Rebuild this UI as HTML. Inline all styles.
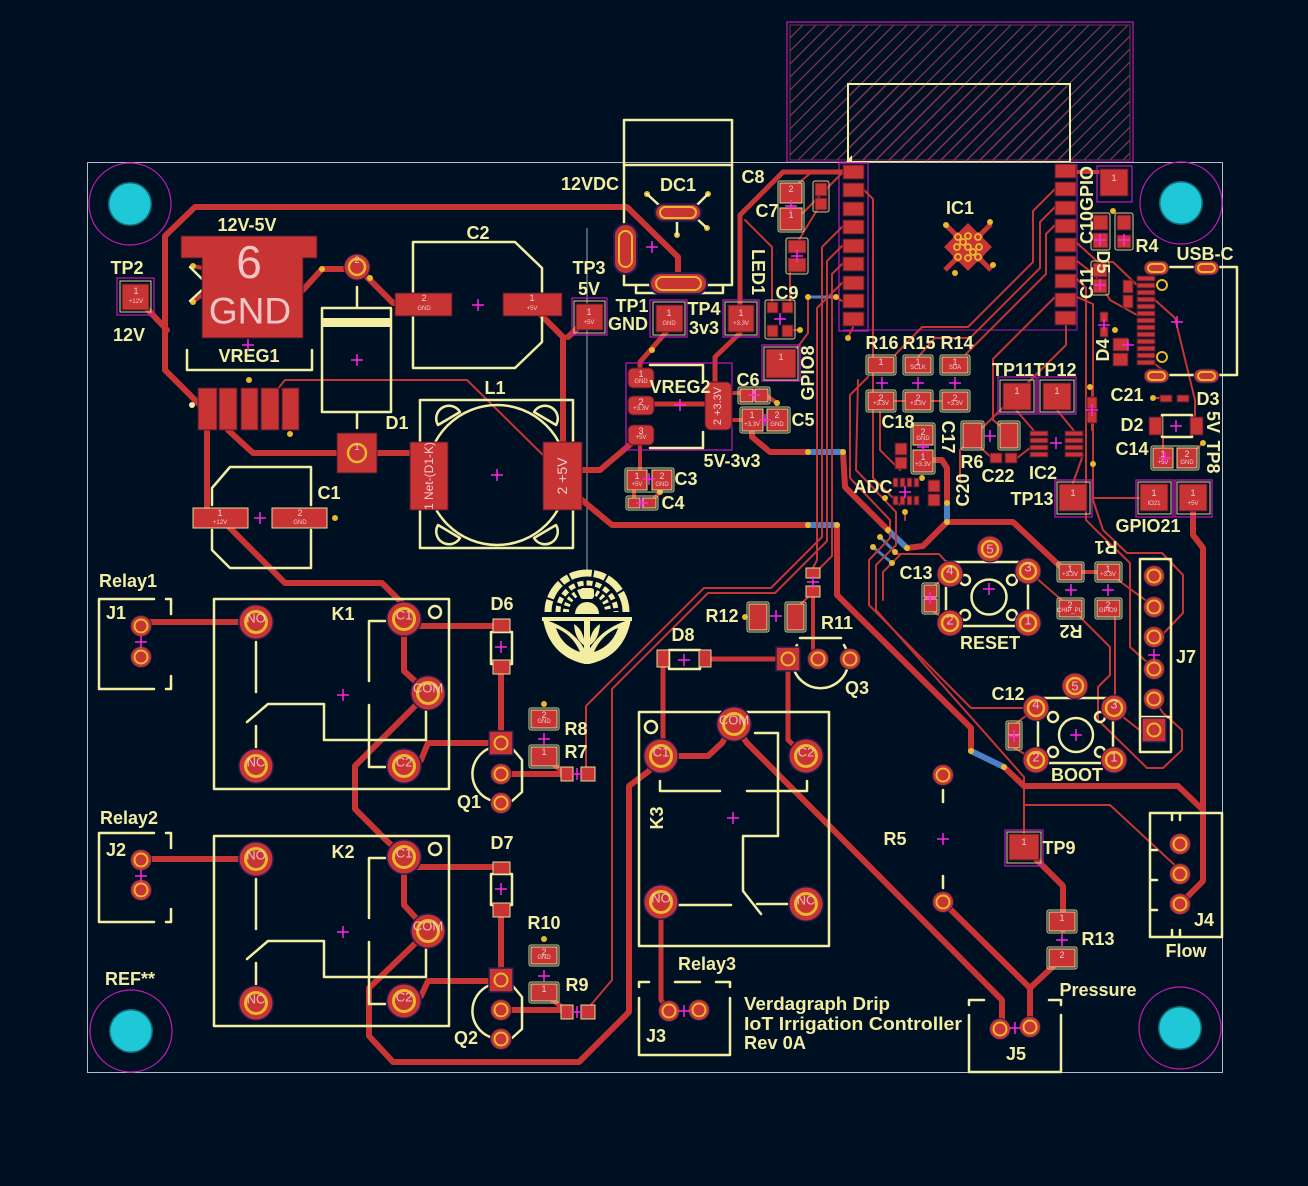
<!DOCTYPE html>
<html><head><meta charset="utf-8"><style>
html,body{margin:0;padding:0;background:#001023;}
svg{display:block;}
.t{fill:none;stroke:#c83434;stroke-linecap:round;stroke-linejoin:round;}
.w6{stroke-width:6}.w5{stroke-width:5}.w4{stroke-width:4}.w2{stroke-width:2}
.bl{fill:none;stroke:#4d7fc4;stroke-width:6;stroke-linecap:round}
.s{fill:none;stroke:#f2eda1;stroke-width:2.5;stroke-linecap:round;stroke-linejoin:round}
.p{fill:#c83434;stroke:#4a1830;stroke-width:1}
.py{fill:#c83434;stroke:#e6dc98;stroke-width:1}
.mo{fill:none;stroke:#c21bb0;stroke-width:1.2}
.yf{fill:none;stroke:#d8cf8a;stroke-width:1}
.L{font-family:"Liberation Sans",sans-serif;font-weight:bold;font-size:18px;fill:#f2eda1;text-anchor:middle;dominant-baseline:central}
.n{font-family:"Liberation Sans",sans-serif;font-size:9px;fill:#f5cccc;text-anchor:middle;dominant-baseline:central}
.nn{font-family:"Liberation Sans",sans-serif;font-size:6px;fill:#f5cccc;text-anchor:middle;dominant-baseline:central}
.k{font-family:"Liberation Sans",sans-serif;font-size:13px;fill:#f5d0d0;text-anchor:middle;dominant-baseline:central;opacity:.85}
.v{fill:#e8b82e}
</style></head><body>
<svg width="1308" height="1186" viewBox="0 0 1308 1186" xmlns="http://www.w3.org/2000/svg">
<defs>
<clipPath id="kc"><rect x="790" y="25" width="340" height="135"/></clipPath>
<g id="tl"><circle r="18" fill="#221c4e"/><circle r="16.5" fill="#c83434"/><circle r="10.5" fill="none" stroke="#e8b82e" stroke-width="3"/></g>
<g id="tm"><circle r="13.5" fill="#221c4e"/><circle r="12.5" fill="#c83434"/><circle r="8" fill="none" stroke="#e8b82e" stroke-width="2.5"/></g>
<g id="ts"><circle r="11" fill="#221c4e"/><circle r="10" fill="#c83434"/><circle r="6.5" fill="none" stroke="#e8b82e" stroke-width="2"/></g>
<g id="tq"><rect x="-12" y="-12" width="24" height="24" fill="#c83434" stroke="#221c4e" stroke-width="1.5"/><circle r="6.5" fill="none" stroke="#e8b82e" stroke-width="2"/></g>
<path id="pl" d="M-6,0H6M0,-6V6" stroke="#ff26e2" stroke-width="1.5" fill="none"/>
</defs>

<!-- keepout -->
<g clip-path="url(#kc)">
<path fill="none" stroke="#8a3452" stroke-width="1.2" d="M655,160 l135,-135 M668,160 l135,-135 M681,160 l135,-135 M694,160 l135,-135 M707,160 l135,-135 M720,160 l135,-135 M733,160 l135,-135 M746,160 l135,-135 M759,160 l135,-135 M772,160 l135,-135 M785,160 l135,-135 M798,160 l135,-135 M811,160 l135,-135 M824,160 l135,-135 M837,160 l135,-135 M850,160 l135,-135 M863,160 l135,-135 M876,160 l135,-135 M889,160 l135,-135 M902,160 l135,-135 M915,160 l135,-135 M928,160 l135,-135 M941,160 l135,-135 M954,160 l135,-135 M967,160 l135,-135 M980,160 l135,-135 M993,160 l135,-135 M1006,160 l135,-135 M1019,160 l135,-135 M1032,160 l135,-135 M1045,160 l135,-135 M1058,160 l135,-135 M1071,160 l135,-135 M1084,160 l135,-135 M1097,160 l135,-135 M1110,160 l135,-135 M1123,160 l135,-135"/>
</g>
<rect x="790" y="25" width="340" height="135" fill="none" stroke="#7d2f48"/>
<rect x="787" y="22" width="346" height="140" class="mo"/>
<rect x="848" y="84" width="222" height="78" fill="none" stroke="#f2eda1" stroke-width="2"/>
<path fill="none" stroke="#8a3452" stroke-width="1.4" d="M849,96 L860,85 M849,109 L873,85 M849,122 L886,85 M849,135 L899,85 M849,148 L912,85 M849,161 L925,85 M862,161 l76,-76 M875,161 l76,-76 M888,161 l76,-76 M901,161 l76,-76 M914,161 l76,-76 M927,161 l76,-76 M940,161 l76,-76 M953,161 l76,-76 M966,161 l76,-76 M979,161 l76,-76 M992,161 l76,-76 M1005,161 L1069,97 M1018,161 L1069,110 M1031,161 L1069,123 M1044,161 L1069,136 M1057,161 L1069,149"/>
<path d="M846,162 L852,155 L852,162 Z" fill="#f2eda1"/>

<!-- board outline -->
<rect x="87.5" y="162.5" width="1135" height="910" fill="none" stroke="#b8bcc0" stroke-width="1"/>
<line x1="587" y1="228" x2="587" y2="570" stroke="#a0a4a8" stroke-width="1"/>
<path d="M843,330 H1077 V164" fill="none" stroke="#b01ca8" stroke-width="1"/>
<rect x="839" y="163" width="29" height="168" class="mo"/>

<!-- mounting holes -->
<g>
<circle cx="130" cy="204" r="41" class="mo"/><circle cx="130" cy="204" r="22" fill="#0f6f7a"/><circle cx="130" cy="204" r="20.5" fill="#1ec8d7"/>
<circle cx="1181" cy="203" r="41" class="mo"/><circle cx="1181" cy="203" r="22" fill="#0f6f7a"/><circle cx="1181" cy="203" r="20.5" fill="#1ec8d7"/>
<circle cx="131" cy="1031" r="41" class="mo"/><circle cx="131" cy="1031" r="22" fill="#0f6f7a"/><circle cx="131" cy="1031" r="20.5" fill="#1ec8d7"/>
<circle cx="1180" cy="1028" r="41" class="mo"/><circle cx="1180" cy="1028" r="22" fill="#0f6f7a"/><circle cx="1180" cy="1028" r="20.5" fill="#1ec8d7"/>
</g>

<!-- ===== THICK TRACES ===== -->
<path class="t w6" d="M678,283 L678,257 L627,207 L195,207 L165,236 L165,370 L205,410"/>
<path class="t w6" d="M136,297 L167,330"/>
<path class="t w6" d="M207,430 L207,513"/>
<path class="t w6" d="M220,518 L285,583 L382,583 L404,605 L404,619"/>
<path class="t w6" d="M228,430 L253,453 L420,453"/>
<path class="t w6" d="M303,290 L322,269 L345,269"/>
<path class="t w4" d="M202,268 L193,266 M202,295 L193,302"/>
<path class="t w6" d="M357,267 L393,303 L420,303"/>
<path class="t w6" d="M531,305 L563,337 L563,450"/>
<path class="t w6" d="M590,317 L568,337"/>
<path class="t w6" d="M570,470 L600,470 L633,442"/>
<path class="t w6" d="M570,490 L612,525 L808,525"/>
<path class="t w6" d="M837,525 L837,595 L971,728 L971,751"/>
<path class="t w6" d="M1004,767 L1024,786 L1178,786 L1203,810"/>
<path class="t w6" d="M1193,505 L1193,535 L1203,548 L1203,881 L1180,904"/>

<path class="t w6" d="M141,622 L256,622"/>
<path class="t w6" d="M404,626 L501,626"/>
<path class="t w6" d="M404,630 L404,671 L428,693"/>
<path class="t w6" d="M428,693 L355,766 L355,809 L386,840 L404,857"/>
<path class="t w6" d="M404,766 L421,760 L428,743 L501,743"/>
<path class="t w6" d="M501,667 L501,743"/>
<path class="t w6" d="M501,774 L566,774"/>
<path class="t w5" d="M544,757 L566,774"/>
<path class="t w6" d="M141,859 L256,859"/>
<path class="t w6" d="M404,867 L501,867"/>
<path class="t w6" d="M404,867 L404,905 L428,931"/>
<path class="t w6" d="M428,931 L369,988 L369,1036 L393,1062 L579,1062 L629,1012 L629,786 L649,771 L661,756"/>
<path class="t w6" d="M404,1001 L421,996 L428,981 L501,981"/>
<path class="t w6" d="M501,910 L501,981"/>
<path class="t w6" d="M501,1010 L566,1010"/>
<path class="t w5" d="M544,994 L566,1010"/>

<path class="t w5" d="M663,660 L663,756"/>
<path class="t w5" d="M705,659 L788,659"/>
<path class="t w5" d="M788,659 L788,740 L806,756"/>
<path class="t w4" d="M813,592 L813,650 L818,659"/>
<path class="t w6" d="M661,756 L708,756 L722,743 L734,724"/>
<path class="t w6" d="M734,724 L747,743 L1002,1000 L1002,1029"/>
<path class="t w6" d="M943,902 L1030,988 L1030,1027"/>
<path class="t w6" d="M1062,958 L1030,988"/>
<path class="t w6" d="M1023,846 L1063,886 L1063,930"/>
<path class="t w5" d="M661,902 L661,1000 L669,1011"/>

<path class="t w5" d="M668,330 L640,362 L640,378"/>
<path class="t w5" d="M740,333 L715,357 L715,387"/>
<path class="t w5" d="M740,318 L740,215 L783,172 L850,172"/>
<path class="t w5" d="M640,404 L710,404"/>
<path class="t w4" d="M725,393 L763,393 L777,403"/>
<path class="t w4" d="M725,420 L752,420"/>
<path class="t w6" d="M752,425 L752,437 L770,452 L808,452"/>
<path class="t w6" d="M843,452 L845,487 L888,530"/>
<path class="t w6" d="M907,548 L923,546 L947,522 L1013,522 L1062,568"/>
<path class="t w6" d="M923,460 L942,460 L947,468 L947,503"/>
<path class="t w4" d="M640,435 L640,480"/>
<path class="t w4" d="M662,480 L660,492 L650,503"/>
<path class="t w4" d="M634,480 L634,503"/>
<path class="t w4" d="M1073,172 L1110,172"/>
<path class="t w4" d="M1082,572 L1107,572"/>

<!-- blue -->
<path class="bl" d="M808,525 L837,525"/>
<path class="bl" d="M971,751 L1004,767"/>
<path class="bl" d="M808,452 L843,452"/>
<path class="bl" d="M888,530 L907,548"/>
<path class="bl" d="M947,503 L947,522"/>
<path class="bl" d="M808,297 L836,297" style="stroke-width:3"/>
<path class="bl" d="M873,547 L892,563" style="stroke-width:3"/>
<path class="bl" d="M880,537 L895,552" style="stroke-width:3"/>

<!-- ===== THIN TRACES ===== -->
<g class="t w2">
<path d="M277,390 L285,380 L467,380 L545,457"/>
<path d="M790,190 L812,172 L842,172"/>
<path d="M803,213 L843,172"/>
<path d="M797,243 L817,210"/>
<path d="M790,272 L790,302"/>
<path d="M745,220 L772,247 L772,302"/>
<path d="M793,330 L800,330"/>
<path d="M797,348 L808,333 L808,297"/>
<path d="M836,297 L842,301"/>
<path d="M853,327 L848,338"/>
<path d="M842,227 L822,247 L822,537 L771,588 L704,588 L620,672 L586,706 L586,770"/>
<path d="M842,246 L827,261 L827,541 L775,593 L708,593 L612,689 L612,980 L590,1006"/>
<path d="M842,264 L832,274 L832,556 L813,575"/>
<path d="M842,283 L817,308 L817,560 L813,568"/>
<path d="M797,607 L813,593"/>
<path d="M864,190 L873,199 L873,478 L900,505"/>
<path d="M868,377 L850,395 L850,478 L890,520 L890,538 L869,560 L869,605 L971,708 L1036,708"/>
<path d="M858,380 L856,470 L896,512 L896,545 L876,565 L876,610 L1024,777 L1024,833"/>
<path d="M1024,805 L1110,805 L1180,870"/>
<path d="M900,555 L883,572 L883,600"/>
<path d="M894,554 L939,554 L950,566"/>
<path d="M931,588 L950,574"/><path d="M931,610 L950,623"/>
<path d="M1014,725 L1036,708"/><path d="M1014,748 L1036,760"/>
<path d="M1055,189 L1033,211 L1033,262 L968,327 L922,327 L895,355"/>
<path d="M1055,207 L1040,222 L1040,268 L970,338 L935,338 L918,357"/>
<path d="M1055,225 L1046,234 L1046,274 L966,354"/>
<path d="M1055,297 L993,359 L993,420 L1005,430"/>
<path d="M1066,326 L1066,345 L960,450 L960,480"/>
<path d="M895,401 L942,401"/>
<path d="M880,412 L880,450 L900,470"/>
<path d="M1016,410 L1035,432"/><path d="M1057,410 L1075,432"/>
<path d="M1073,483 L1083,455"/>
<path d="M972,440 L992,458"/><path d="M1017,458 L1030,448"/>
<path d="M1077,279 L1086,288 L1086,520 L1097,531 L1130,563 L1130,647 L1148,663"/>
<path d="M1077,297 L1093,304 L1093,500 L1103,530 L1127,553 L1162,553 L1183,575 L1183,613 L1162,635 L1154,637"/>
<path d="M1093,498 L1139,498"/>
<path d="M1077,243 L1098,262 L1113,262 L1137,285"/>
<path d="M1077,261 L1095,275 L1110,300 L1137,315"/>
<path d="M1155,300 L1175,318 L1195,400 L1195,417"/>
<path d="M1150,360 L1165,372"/>
<path d="M1153,398 L1160,398"/>
<path d="M1163,458 L1163,437"/><path d="M1187,458 L1203,443"/>
<path d="M1092,387 L1092,430"/>
<path d="M1028,571 L1071,608"/>
<path d="M1078,615 L1110,647 L1110,675 L1098,687 L1098,720 L1147,768 L1163,768 L1182,750 L1182,730 L1163,713 L1154,699"/>
<path d="M1115,617 L1115,697 L1114,708"/>
<path d="M1123,717 L1142,732"/>
<path d="M1118,580 L1152,605"/>
<path d="M905,512 L905,520"/>
</g>

<!-- vias -->
<g class="v">
<circle cx="249" cy="380" r="3"/><circle cx="290" cy="434" r="3"/><circle cx="335" cy="518" r="3"/>
<circle cx="652" cy="350" r="3"/><circle cx="677" cy="235" r="3"/><circle cx="647" cy="194" r="3"/><circle cx="708" cy="194" r="3"/><circle cx="707" cy="228" r="3"/>
<circle cx="777" cy="403" r="3"/><circle cx="800" cy="330" r="3"/><circle cx="808" cy="297" r="3"/><circle cx="836" cy="297" r="3"/>
<circle cx="808" cy="452" r="3"/><circle cx="843" cy="452" r="3"/><circle cx="808" cy="525" r="3"/><circle cx="837" cy="525" r="3"/>
<circle cx="848" cy="338" r="3"/><circle cx="745" cy="617" r="3"/><circle cx="888" cy="530" r="3"/><circle cx="907" cy="548" r="3"/>
<circle cx="873" cy="547" r="3"/><circle cx="892" cy="563" r="3"/><circle cx="880" cy="537" r="3"/><circle cx="895" cy="552" r="3"/>
<circle cx="947" cy="503" r="3"/><circle cx="947" cy="522" r="3"/><circle cx="971" cy="751" r="3"/><circle cx="1004" cy="767" r="3"/>
<circle cx="1153" cy="398" r="3"/><circle cx="1203" cy="443" r="3"/><circle cx="544" cy="704" r="3"/><circle cx="544" cy="939" r="3"/>
<circle cx="660" cy="492" r="3"/><circle cx="885" cy="498" r="3"/><circle cx="922" cy="478" r="3"/><circle cx="905" cy="512" r="3"/>
<circle cx="1090" cy="387" r="3"/><circle cx="1093" cy="464" r="3"/><circle cx="1115" cy="330" r="3"/><circle cx="1113" cy="211" r="3"/>
<circle cx="193" cy="266" r="3"/><circle cx="193" cy="302" r="3"/><circle cx="322" cy="269" r="3"/><circle cx="370" cy="278" r="3"/>
</g>

<!-- ===== SILKSCREEN SHAPES ===== -->
<g class="s">
<path d="M187,350 V370 H312 V350"/>
<rect x="322" y="308" width="69" height="104"/>
<path d="M357,287 V307 M357,413 V428"/>
<path d="M413,242 H515 L542,268 V342 L515,368 H413 Z"/>
<path d="M212,505 V488 L230,467 H311 V505 M311,530 V568 H230 L212,550 V530"/>
<rect x="420" y="400" width="153" height="148"/>
<circle cx="497" cy="475" r="70"/>
<path d="M438,425 A12,12 0 0,1 460,412 Z M556,425 A12,12 0 0,0 534,412 Z M438,525 A12,12 0 0,0 460,538 Z M556,525 A12,12 0 0,1 534,538 Z"/>
<rect x="624" y="120" width="108" height="165"/>
<path d="M624,165 H732 M636,285 V293 H723 V285"/>
<path d="M650,365 H703 V382 M703,432 V448 H650"/>
<path d="M154,599 H99 V689 H154 M166,599 H171 V614 M171,676 V689 H166"/>
<path d="M154,833 H99 V922 H154 M166,833 H171 V848 M171,909 V922 H166"/>
<rect x="214" y="599" width="235" height="190"/>
<circle cx="435" cy="612" r="6"/>
<path d="M256,642 V692 M256,726 V747 M247,722 L268,704 H324 V740 H426 V702 M385,621 H369 V681 M369,705 V767 H385"/>
<rect x="214" y="836" width="235" height="190"/>
<circle cx="435" cy="849" r="6"/>
<path d="M256,879 V929 M256,963 V984 M247,959 L268,941 H324 V977 H426 V939 M385,858 H369 V918 M369,942 V1004 H385"/>
<rect x="491" y="632" width="21" height="32"/>
<rect x="491" y="874" width="21" height="31"/>
<path d="M490,748 A28,28 0 0,0 490,800 M512,748 L522,760 V792 L512,801"/>
<path d="M490,985 A28,28 0 0,0 490,1037 M512,985 L522,997 V1029 L512,1038"/>
<path d="M797,645 A28,28 0 1,0 844,645 M800,638 H841"/>
<rect x="669" y="650" width="31" height="19"/>
<rect x="639" y="712" width="190" height="234"/>
<circle cx="651" cy="727" r="6"/>
<path d="M660,781 V791 H720 M747,791 H807 V781 M755,733 H778 V836 H743 V891 L761,914 M678,905 H731 M757,904 H788"/>
<path d="M639,987 V982 H649 M675,982 H700 M716,982 H730 V987 M639,998 V1055 H730 V998"/>
<path d="M969,1005 V1000 H984 M1049,1000 H1061 V1005 M969,1015 V1072 H1061 V1015"/>
<path d="M1150,813 H1222 V937 H1150 Z M1172,813 V820 M1180,813 V820 M1150,850 H1157 M1150,880 H1157 M1150,910 H1157 M1172,937 V930 M1180,937 V930"/>
<rect x="1140" y="559" width="31" height="193"/>
<path d="M1140,717 H1171"/>
<rect x="946" y="562" width="82" height="64"/>
<circle cx="989" cy="597" r="17.5"/>
<circle cx="965" cy="580" r="5"/><circle cx="1012" cy="580" r="5"/><circle cx="965" cy="615" r="5"/><circle cx="1012" cy="615" r="5"/>
<rect x="1038" y="698" width="75" height="65"/>
<circle cx="1076" cy="735" r="17"/>
<circle cx="1053" cy="717" r="5"/><circle cx="1100" cy="717" r="5"/><circle cx="1053" cy="752" r="5"/><circle cx="1100" cy="752" r="5"/>
<path d="M943,790 V802 M943,876 V888"/>
<path d="M1170,267 H1237 V375 H1170"/>
<rect x="1162" y="415" width="30" height="22"/>
<path d="M647,194 L660,206 M708,194 L696,206 M707,228 L696,218 M677,220 V235"/>
<path d="M190,267 L202,279 M190,301 L202,290"/>
</g>
<rect x="322" y="318" width="69" height="9" fill="#f2eda1"/>
<circle cx="192" cy="405" r="3" fill="#f2eda1"/>
<circle cx="1162" cy="285" r="5" fill="none" stroke="#e8b82e" stroke-width="2"/>
<circle cx="1162" cy="357" r="5" fill="none" stroke="#e8b82e" stroke-width="2"/>

<!-- small silk outlines around passives -->
<g class="yf">
<rect x="625" y="468" width="49" height="24" rx="2"/>
<rect x="626" y="496" width="32" height="14" rx="2"/>
<rect x="740" y="407" width="50" height="26" rx="2"/>
<rect x="738" y="387" width="32" height="17" rx="2"/>
<rect x="778" y="181" width="26" height="51" rx="2"/>
<rect x="813" y="181" width="16" height="31" rx="2"/>
<rect x="786" y="238" width="22" height="36" rx="2"/>
<rect x="765" y="300" width="30" height="39" rx="2"/>
<rect x="911" y="423" width="24" height="51" rx="2"/>
<rect x="747" y="602" width="22" height="30" rx="2"/>
<rect x="785" y="602" width="21" height="30" rx="2"/>
<rect x="529" y="708" width="30" height="22" rx="2"/>
<rect x="529" y="745" width="30" height="23" rx="2"/>
<rect x="529" y="945" width="30" height="21" rx="2"/>
<rect x="529" y="982" width="30" height="21" rx="2"/>
<rect x="1047" y="910" width="30" height="23" rx="2"/>
<rect x="1047" y="947" width="30" height="22" rx="2"/>
<rect x="866" y="355" width="30" height="20" rx="2"/><rect x="903" y="355" width="30" height="20" rx="2"/><rect x="940" y="355" width="30" height="20" rx="2"/>
<rect x="866" y="390" width="30" height="22" rx="2"/><rect x="903" y="390" width="30" height="22" rx="2"/><rect x="940" y="390" width="30" height="22" rx="2"/>
<rect x="1057" y="562" width="27" height="20" rx="2"/><rect x="1095" y="562" width="27" height="20" rx="2"/>
<rect x="1057" y="598" width="27" height="21" rx="2"/><rect x="1095" y="598" width="27" height="21" rx="2"/>
<rect x="1151" y="446" width="48" height="24" rx="2"/>
<rect x="961" y="421" width="23" height="29" rx="2"/><rect x="998" y="421" width="22" height="29" rx="2"/>
<rect x="1091" y="213" width="19" height="37" rx="2"/><rect x="1115" y="213" width="18" height="37" rx="2"/>
<rect x="1091" y="261" width="18" height="34" rx="2"/>
<rect x="922" y="583" width="17" height="31" rx="2"/>
<rect x="1006" y="721" width="16" height="29" rx="2"/>
</g>

<!-- TP magenta boxes + yellow frames -->
<g>
<rect x="117" y="278" width="37" height="37" class="mo"/>
<rect x="572" y="298" width="35" height="37" class="mo"/>
<rect x="650" y="300" width="37" height="37" class="mo"/>
<rect x="723" y="300" width="36" height="37" class="mo"/>
<rect x="762" y="345" width="38" height="36" class="mo"/>
<rect x="998" y="377" width="38" height="37" class="mo"/>
<rect x="1038" y="377" width="38" height="37" class="mo"/>
<rect x="1055" y="480" width="37" height="37" class="mo"/>
<rect x="1136" y="480" width="37" height="37" class="mo"/>
<rect x="1175" y="480" width="37" height="37" class="mo"/>
<rect x="1097" y="166" width="35" height="36" class="mo"/>
<rect x="1005" y="830" width="38" height="36" class="mo"/>
<rect x="626" y="363" width="106" height="87" class="mo"/>
</g>
<g class="yf">
<rect x="120" y="281" width="31" height="31"/><rect x="574" y="301" width="31" height="32"/><rect x="653" y="302" width="32" height="33"/>
<rect x="725" y="302" width="32" height="33"/><rect x="764" y="347" width="34" height="33"/><rect x="1000" y="380" width="34" height="32"/>
<rect x="1040" y="380" width="34" height="32"/><rect x="1057" y="482" width="33" height="32"/><rect x="1138" y="482" width="33" height="32"/>
<rect x="1177" y="482" width="33" height="32"/><rect x="1007" y="832" width="34" height="31"/>
</g>

<!-- logo -->
<g fill="#f2eda1">
<path d="M548,612 A39,39 0 0,1 626,612" fill="none" stroke="#f2eda1" stroke-width="7" stroke-dasharray="12 2 18 2 8 2 22 2 12 2 18 2 24"/>
<path d="M558,612 A29,29 0 0,1 616,612" fill="none" stroke="#f2eda1" stroke-width="5" stroke-dasharray="6 3"/>
<path d="M566,612 A21,21 0 0,1 608,612" fill="none" stroke="#f2eda1" stroke-width="6" stroke-dasharray="3 3"/>
<path d="M575,614 A12,12 0 0,1 599,614 Z"/>
<rect x="580" y="588" width="14" height="11" rx="3"/>
<path d="M542,617 H632 V621 H542 Z"/>
<path d="M543,619 C548,648 566,660 585,664 L585,650 C577,636 565,626 543,619 Z"/>
<path d="M631,619 C626,648 608,660 589,664 L589,650 C597,636 609,626 631,619 Z"/>
<path d="M556,628 C566,632 575,640 580,652 C568,648 560,640 556,628 Z" fill="#001023"/>
<path d="M618,628 C608,632 599,640 594,652 C606,648 614,640 618,628 Z" fill="#001023"/>
<rect x="584" y="620" width="6" height="44"/>
<path d="M574,624 Q584,630 585,646 Q575,640 574,624 Z"/>
<path d="M600,624 Q590,630 589,646 Q599,640 600,624 Z"/>
</g>

<!-- ===== PADS ===== -->
<path class="p" d="M181,236 H317 V258 H303 V338 H202 V258 H181 Z"/>
<rect class="p" x="198" y="388" width="19" height="42"/><rect class="p" x="219" y="388" width="18" height="42"/>
<rect class="p" x="241" y="388" width="17" height="42"/><rect class="p" x="261" y="388" width="18" height="42"/>
<rect class="p" x="282" y="388" width="17" height="42"/>
<rect class="p" x="122" y="284" width="27" height="26"/>
<rect class="py" x="193" y="508" width="55" height="20"/><rect class="py" x="272" y="508" width="55" height="20"/>
<rect class="p" x="395" y="293" width="57" height="23"/><rect class="p" x="503" y="293" width="59" height="23"/>
<rect class="p" x="337" y="433" width="40" height="40"/>
<rect class="p" x="410" y="442" width="38" height="68"/><rect class="p" x="543" y="442" width="39" height="68"/>
<rect class="p" x="576" y="304" width="27" height="26"/><rect class="p" x="656" y="305" width="27" height="27"/><rect class="p" x="728" y="305" width="26" height="27"/>
<rect class="p" x="628" y="368" width="26" height="20" rx="5"/><rect class="p" x="628" y="396" width="26" height="19" rx="5"/><rect class="p" x="628" y="425" width="26" height="20" rx="5"/>
<rect class="p" x="705" y="382" width="27" height="48" rx="6"/>
<rect class="py" x="740" y="389" width="13" height="13"/><rect class="py" x="755" y="389" width="13" height="13"/>
<rect class="py" x="742" y="409" width="21" height="22"/><rect class="py" x="767" y="409" width="21" height="22"/>
<rect class="py" x="627" y="470" width="20" height="20"/><rect class="py" x="652" y="470" width="20" height="20"/>
<rect class="py" x="628" y="498" width="12" height="10"/><rect class="py" x="643" y="498" width="13" height="10"/>
<rect class="py" x="780" y="183" width="22" height="20"/><rect class="py" x="780" y="208" width="22" height="22"/>
<rect class="p" x="815" y="183" width="12" height="13"/><rect class="p" x="815" y="198" width="12" height="12"/>
<rect class="p" x="788" y="240" width="18" height="13"/><rect class="p" x="788" y="258" width="18" height="14"/>
<rect class="p" x="767" y="302" width="11" height="11"/><rect class="p" x="782" y="302" width="11" height="11"/>
<rect class="p" x="767" y="325" width="11" height="12"/><rect class="p" x="782" y="325" width="11" height="12"/>
<rect class="p" x="766" y="349" width="30" height="29"/>
<g class="p">
<rect x="843" y="165" width="21" height="14"/><rect x="843" y="183" width="21" height="14"/><rect x="843" y="202" width="21" height="14"/>
<rect x="843" y="220" width="21" height="14"/><rect x="843" y="239" width="21" height="14"/><rect x="843" y="257" width="21" height="14"/>
<rect x="843" y="276" width="21" height="14"/><rect x="843" y="294" width="21" height="14"/><rect x="843" y="312" width="21" height="14"/>
<rect x="1055" y="164" width="21" height="14"/><rect x="1055" y="182" width="21" height="14"/><rect x="1055" y="201" width="21" height="14"/>
<rect x="1055" y="219" width="21" height="14"/><rect x="1055" y="238" width="21" height="14"/><rect x="1055" y="256" width="21" height="14"/>
<rect x="1055" y="274" width="21" height="14"/><rect x="1055" y="293" width="21" height="14"/><rect x="1055" y="311" width="21" height="14"/>
<rect x="1100" y="169" width="28" height="27"/>
</g>
<g transform="translate(968,247)">
<path d="M-23,-23 L23,23 M23,-23 L-23,23" stroke="#c83434" stroke-width="5"/>
<rect x="-17" y="-17" width="34" height="34" transform="rotate(45)" fill="#c83434"/>
<rect x="-15" y="-15" width="30" height="30" fill="#c83434"/>
<g fill="none" stroke="#e8b82e" stroke-width="1.8">
<circle cx="-10" cy="-10" r="3"/><circle cx="0" cy="-11" r="3"/><circle cx="10" cy="-10" r="3"/>
<circle cx="-11" cy="0" r="3"/><circle cx="0" cy="0" r="3"/><circle cx="11" cy="0" r="3"/>
<circle cx="-10" cy="10" r="3"/><circle cx="0" cy="11" r="3"/><circle cx="10" cy="10" r="3"/>
<circle cx="-5" cy="-5" r="3"/><circle cx="5" cy="5" r="3"/>
</g>
<g class="v"><circle cx="-22" cy="-22" r="3"/><circle cx="22" cy="-25" r="3"/><circle cx="25" cy="18" r="3"/><circle cx="-13" cy="26" r="3"/></g>
</g>
<g class="py">
<rect x="868" y="357" width="26" height="16"/><rect x="905" y="357" width="26" height="16"/><rect x="942" y="357" width="26" height="16"/>
<rect x="868" y="392" width="26" height="18"/><rect x="905" y="392" width="26" height="18"/><rect x="942" y="392" width="26" height="18"/>
<rect x="913" y="425" width="20" height="20"/><rect x="913" y="450" width="20" height="22"/>
<rect x="963" y="423" width="19" height="25"/><rect x="1000" y="423" width="18" height="25"/>
<rect x="1153" y="448" width="20" height="20"/><rect x="1177" y="448" width="20" height="20"/>
</g>
<g class="p">
<rect x="1003" y="383" width="28" height="27"/><rect x="1043" y="383" width="28" height="27"/>
<rect x="895" y="443" width="12" height="12"/><rect x="895" y="457" width="12" height="12"/>
<rect x="893" y="478" width="5" height="9"/><rect x="900" y="478" width="5" height="9"/><rect x="907" y="478" width="5" height="9"/><rect x="914" y="478" width="5" height="9"/>
<rect x="893" y="496" width="5" height="9"/><rect x="900" y="496" width="5" height="9"/><rect x="907" y="496" width="5" height="9"/><rect x="914" y="496" width="5" height="9"/>
<rect x="928" y="480" width="12" height="12"/><rect x="928" y="494" width="12" height="12"/>
<rect x="990" y="453" width="12" height="10"/><rect x="1005" y="453" width="12" height="10"/>
<rect x="1030" y="431" width="18" height="5"/><rect x="1030" y="438" width="18" height="5"/><rect x="1030" y="445" width="18" height="5"/><rect x="1030" y="452" width="18" height="5"/>
<rect x="1065" y="431" width="18" height="5"/><rect x="1065" y="438" width="18" height="5"/><rect x="1065" y="445" width="18" height="5"/><rect x="1065" y="452" width="18" height="5"/>
<rect x="1059" y="484" width="28" height="27"/><rect x="1140" y="484" width="28" height="27"/><rect x="1179" y="484" width="28" height="27"/>
<rect x="1149" y="417" width="13" height="18"/><rect x="1190" y="417" width="13" height="18"/>
<rect x="1160" y="395" width="12" height="7"/><rect x="1177" y="395" width="12" height="7"/>
<rect x="1087" y="397" width="10" height="12"/><rect x="1087" y="411" width="10" height="12"/>
<rect x="1093" y="215" width="15" height="15"/><rect x="1093" y="233" width="15" height="15"/>
<rect x="1117" y="215" width="14" height="15"/><rect x="1117" y="235" width="14" height="13"/>
<rect x="1093" y="263" width="14" height="14"/><rect x="1093" y="279" width="14" height="14"/>
<rect x="1123" y="280" width="10" height="13"/><rect x="1123" y="295" width="10" height="13"/>
<rect x="1100" y="312" width="8" height="10"/><rect x="1100" y="327" width="8" height="10"/>
<rect x="1113" y="338" width="15" height="13"/><rect x="1113" y="353" width="15" height="13"/>
<rect x="1137" y="276" width="18" height="5"/><rect x="1137" y="283" width="18" height="5"/><rect x="1137" y="290" width="18" height="5"/>
<rect x="1137" y="297" width="18" height="5"/><rect x="1137" y="304" width="18" height="5"/><rect x="1137" y="311" width="18" height="5"/>
<rect x="1137" y="318" width="18" height="5"/><rect x="1137" y="325" width="18" height="5"/><rect x="1137" y="332" width="18" height="5"/>
<rect x="1137" y="339" width="18" height="5"/><rect x="1137" y="346" width="18" height="5"/><rect x="1137" y="353" width="18" height="5"/>
<rect x="1137" y="360" width="18" height="5"/>
</g>
<g class="py">
<rect x="749" y="604" width="18" height="26"/><rect x="787" y="604" width="17" height="26"/>
<rect x="806" y="568" width="14" height="10"/><rect x="806" y="586" width="14" height="11"/>
<rect x="657" y="650" width="12" height="17"/><rect x="699" y="650" width="12" height="17"/>
<rect x="531" y="710" width="26" height="18"/><rect x="531" y="747" width="26" height="19"/>
<rect x="561" y="767" width="12" height="14"/><rect x="581" y="767" width="14" height="14"/>
<rect x="531" y="947" width="26" height="17"/><rect x="531" y="984" width="26" height="17"/>
<rect x="561" y="1005" width="12" height="14"/><rect x="581" y="1005" width="14" height="14"/>
<rect x="493" y="619" width="17" height="13"/><rect x="493" y="660" width="17" height="14"/>
<rect x="493" y="862" width="17" height="12"/><rect x="493" y="903" width="17" height="14"/>
<rect x="1059" y="564" width="23" height="16"/><rect x="1097" y="564" width="23" height="16"/>
<rect x="1059" y="600" width="23" height="17"/><rect x="1097" y="600" width="23" height="17"/>
<rect x="924" y="585" width="13" height="12"/><rect x="924" y="599" width="13" height="13"/>
<rect x="1008" y="723" width="12" height="12"/><rect x="1008" y="736" width="12" height="12"/>
<rect x="1049" y="912" width="26" height="19"/><rect x="1049" y="949" width="26" height="18"/>
</g>
<rect class="p" x="1009" y="834" width="30" height="26"/>

<!-- ovals -->
<g>
<rect x="655" y="204" width="46" height="17" rx="8.5" fill="#c83434" stroke="#221c4e" stroke-width="2"/>
<rect x="660" y="207" width="36" height="11" rx="5.5" fill="none" stroke="#e8b82e" stroke-width="2"/>
<rect x="614" y="224" width="23" height="50" rx="11.5" fill="#c83434" stroke="#221c4e" stroke-width="2"/>
<rect x="619" y="231" width="13" height="36" rx="6.5" fill="none" stroke="#e8b82e" stroke-width="2"/>
<rect x="650" y="273" width="57" height="21" rx="10.5" fill="#c83434" stroke="#221c4e" stroke-width="2"/>
<rect x="656" y="277" width="45" height="13" rx="6.5" fill="none" stroke="#e8b82e" stroke-width="2"/>
<rect x="1144" y="261" width="25" height="14" rx="7" fill="#c83434" stroke="#221c4e"/><rect x="1148" y="264" width="17" height="8" rx="4" fill="none" stroke="#e8b82e" stroke-width="2"/>
<rect x="1194" y="261" width="25" height="14" rx="7" fill="#c83434" stroke="#221c4e"/><rect x="1198" y="264" width="17" height="8" rx="4" fill="none" stroke="#e8b82e" stroke-width="2"/>
<rect x="1144" y="369" width="25" height="14" rx="7" fill="#c83434" stroke="#221c4e"/><rect x="1148" y="372" width="17" height="8" rx="4" fill="none" stroke="#e8b82e" stroke-width="2"/>
<rect x="1194" y="369" width="25" height="14" rx="7" fill="#c83434" stroke="#221c4e"/><rect x="1198" y="372" width="17" height="8" rx="4" fill="none" stroke="#e8b82e" stroke-width="2"/>
</g>

<!-- THT pads -->
<use href="#tm" x="357" y="267"/>
<circle cx="357" cy="453" r="9" fill="none" stroke="#e8b82e" stroke-width="2.5"/>
<use href="#tl" x="256" y="622"/><use href="#tl" x="404" y="619"/><use href="#tl" x="428" y="693"/><use href="#tl" x="256" y="766"/><use href="#tl" x="404" y="766"/>
<use href="#tl" x="256" y="859"/><use href="#tl" x="404" y="857"/><use href="#tl" x="428" y="931"/><use href="#tl" x="256" y="1003"/><use href="#tl" x="404" y="1001"/>
<use href="#tl" x="661" y="756"/><use href="#tl" x="734" y="724"/><use href="#tl" x="806" y="756"/><use href="#tl" x="661" y="902"/><use href="#tl" x="806" y="904"/>
<use href="#tm" x="950" y="574"/><use href="#tm" x="1028" y="571"/><use href="#tm" x="950" y="623"/><use href="#tm" x="1028" y="623"/><use href="#tm" x="990" y="549"/>
<use href="#tm" x="1036" y="708"/><use href="#tm" x="1114" y="708"/><use href="#tm" x="1036" y="760"/><use href="#tm" x="1114" y="760"/><use href="#tm" x="1075" y="686"/>
<use href="#ts" x="1154" y="576"/><use href="#ts" x="1154" y="607"/><use href="#ts" x="1154" y="637"/><use href="#ts" x="1154" y="669"/><use href="#ts" x="1154" y="699"/><use href="#tq" x="1154" y="730"/>
<use href="#ts" x="141" y="626"/><use href="#ts" x="141" y="657"/><use href="#ts" x="141" y="860"/><use href="#ts" x="141" y="890"/>
<use href="#tq" x="501" y="743"/><use href="#ts" x="501" y="774"/><use href="#ts" x="501" y="803"/>
<use href="#tq" x="501" y="980"/><use href="#ts" x="501" y="1010"/><use href="#ts" x="501" y="1039"/>
<use href="#tq" x="788" y="659"/><use href="#ts" x="818" y="659"/><use href="#ts" x="850" y="659"/>
<use href="#ts" x="943" y="775"/><use href="#ts" x="943" y="902"/>
<use href="#ts" x="1000" y="1029"/><use href="#ts" x="1030" y="1027"/>
<use href="#ts" x="1180" y="844"/><use href="#ts" x="1180" y="874"/><use href="#ts" x="1180" y="904"/>
<use href="#ts" x="669" y="1011"/><use href="#ts" x="699" y="1010"/>

<!-- pad texts -->
<text x="249" y="262" style="font-family:'Liberation Sans',sans-serif;font-size:46px;fill:#f2c4c4;text-anchor:middle;dominant-baseline:central">6</text>
<text x="250" y="311" style="font-family:'Liberation Sans',sans-serif;font-size:37px;fill:#f2c4c4;text-anchor:middle;dominant-baseline:central">GND</text>
<g class="n">
<text x="136" y="291">1</text><text x="220" y="513">1</text><text x="300" y="513">2</text>
<text x="424" y="298">2</text><text x="532" y="298">1</text><text x="357" y="260">2</text><text x="357" y="447">1</text>
<text x="589" y="312">1</text><text x="669" y="313">1</text><text x="741" y="313">1</text><text x="641" y="374">1</text><text x="641" y="402">2</text><text x="641" y="431">3</text>
<text x="637" y="476">1</text><text x="662" y="476">2</text><text x="752" y="415">1</text><text x="777" y="415">2</text><text x="791" y="189">2</text><text x="791" y="215">1</text>
<text x="781" y="357">1</text><text x="1017" y="391">1</text><text x="1057" y="391">1</text><text x="1073" y="493">1</text><text x="1154" y="493">1</text><text x="1193" y="493">1</text>
<text x="1114" y="178">1</text><text x="881" y="362">1</text><text x="918" y="362">1</text><text x="955" y="362">1</text><text x="881" y="398">2</text><text x="918" y="398">2</text><text x="955" y="398">2</text>
<text x="923" y="432">2</text><text x="923" y="457">1</text><text x="1163" y="454">1</text><text x="1187" y="454">2</text><text x="1024" y="842">1</text>
<text x="1062" y="918">1</text><text x="1062" y="955">2</text><text x="1070" y="569">1</text><text x="1108" y="569">1</text><text x="1070" y="605">2</text><text x="1108" y="605">2</text>
<text x="544" y="715">2</text><text x="544" y="752">1</text><text x="544" y="952">2</text><text x="544" y="989">1</text>
</g>
<g class="nn">
<text x="136" y="302">+12V</text><text x="220" y="523">+12V</text><text x="300" y="523">GND</text><text x="424" y="309">GND</text><text x="532" y="309">+5V</text>
<text x="589" y="323">+5V</text><text x="669" y="324">GND</text><text x="741" y="324">+3.3V</text><text x="641" y="382">GND</text><text x="641" y="409">+3.3V</text><text x="641" y="438">+5V</text>
<text x="637" y="485">+5V</text><text x="662" y="485">GND</text><text x="752" y="425">+3.3V</text><text x="777" y="425">GND</text>
<text x="918" y="368">SCLK</text><text x="955" y="368">SDA</text><text x="881" y="404">+3.3V</text><text x="918" y="404">+3.3V</text><text x="955" y="404">+3.3V</text>
<text x="923" y="439">GND</text><text x="923" y="465">+3.3V</text><text x="1163" y="463">+5V</text><text x="1187" y="463">GND</text>
<text x="1154" y="504">IO21</text><text x="1193" y="504">+5V</text><text x="1070" y="575">+3.3V</text><text x="1108" y="575">+3.3V</text><text x="1070" y="611">CHIP_PU</text><text x="1108" y="611">GPIO9</text>
<text x="544" y="722">GND</text><text x="544" y="958">GND</text>
</g>
<text transform="translate(429,476) rotate(-90)" style="font-family:'Liberation Sans',sans-serif;font-size:12px;fill:#f5cccc;text-anchor:middle;dominant-baseline:central">1  Net-(D1-K)</text>
<text transform="translate(562,476) rotate(-90)" style="font-family:'Liberation Sans',sans-serif;font-size:14px;fill:#f5cccc;text-anchor:middle;dominant-baseline:central">2 +5V</text>
<text transform="translate(718,406) rotate(-90)" style="font-family:'Liberation Sans',sans-serif;font-size:11px;fill:#f5cccc;text-anchor:middle;dominant-baseline:central">2 +3.3V</text>
<g class="k">
<text x="256" y="618">NO</text><text x="404" y="615">C1</text><text x="428" y="688">COM</text><text x="256" y="762">NC</text><text x="404" y="762">C2</text>
<text x="256" y="855">NO</text><text x="404" y="853">C1</text><text x="428" y="926">COM</text><text x="256" y="999">NC</text><text x="404" y="997">C2</text>
<text x="661" y="752">C1</text><text x="734" y="720">COM</text><text x="806" y="752">C2</text><text x="661" y="898">NO</text><text x="806" y="900">NC</text>
<text x="990" y="549">5</text><text x="1075" y="686">5</text><text x="950" y="570">4</text><text x="1028" y="567">3</text><text x="950" y="620">2</text><text x="1028" y="620">1</text>
<text x="1036" y="704">4</text><text x="1114" y="704">3</text><text x="1036" y="757">2</text><text x="1114" y="757">1</text>
</g>

<!-- ===== LABELS ===== -->
<g class="L">
<text x="127" y="268">TP2</text><text x="129" y="335">12V</text>
<text x="247" y="225">12V-5V</text><text x="249" y="356">VREG1</text>
<text x="478" y="233">C2</text><text x="590" y="184">12VDC</text><text x="678" y="185">DC1</text>
<text x="753" y="177">C8</text><text x="767" y="211">C7</text><text x="960" y="208">IC1</text>
<text x="589" y="268">TP3</text><text x="589" y="289">5V</text>
<text x="632" y="306">TP1</text><text x="628" y="324">GND</text>
<text x="704" y="309">TP4</text><text x="704" y="328">3v3</text>
<text x="787" y="293">C9</text><text x="495" y="388">L1</text><text x="397" y="423">D1</text>
<text x="680" y="387">VREG2</text><text x="748" y="380">C6</text><text x="803" y="420">C5</text>
<text x="732" y="461">5V-3v3</text><text x="686" y="479">C3</text><text x="673" y="503">C4</text><text x="329" y="493">C1</text>
<text x="882" y="343">R16</text><text x="919" y="343">R15</text><text x="957" y="343">R14</text>
<text x="1013" y="370">TP11</text><text x="1055" y="370">TP12</text>
<text x="898" y="422">C18</text><text x="873" y="487">ADC</text>
<text x="972" y="462">R6</text><text x="998" y="476">C22</text><text x="1043" y="473">IC2</text><text x="1032" y="499">TP13</text>
<text x="1127" y="395">C21</text><text x="1208" y="399">D3</text><text x="1132" y="425">D2</text><text x="1132" y="449">C14</text>
<text x="1148" y="526">GPIO21</text><text x="1205" y="254">USB-C</text><text x="1147" y="246">R4</text>
<text x="916" y="573">C13</text><text x="990" y="643">RESET</text>
<text x="1186" y="657">J7</text><text x="1008" y="694">C12</text><text x="1077" y="775">BOOT</text>
<text x="722" y="616">R12</text><text x="837" y="623">R11</text><text x="857" y="688">Q3</text><text x="683" y="635">D8</text>
<text x="895" y="839">R5</text><text x="1059" y="848">TP9</text><text x="1098" y="939">R13</text>
<text x="1204" y="920">J4</text><text x="1186" y="951">Flow</text><text x="1098" y="990">Pressure</text><text x="1016" y="1054">J5</text>
<text x="707" y="964">Relay3</text><text x="656" y="1036">J3</text>
<text x="128" y="581">Relay1</text><text x="116" y="613">J1</text><text x="343" y="614">K1</text><text x="502" y="604">D6</text>
<text x="576" y="729">R8</text><text x="576" y="752">R7</text><text x="469" y="802">Q1</text>
<text x="129" y="818">Relay2</text><text x="116" y="850">J2</text><text x="343" y="852">K2</text><text x="502" y="843">D7</text>
<text x="544" y="923">R10</text><text x="577" y="985">R9</text><text x="466" y="1038">Q2</text>
<text x="130" y="979">REF**</text>
<text transform="translate(758,272) rotate(90)">LED1</text>
<text transform="translate(808,373) rotate(-90)">GPIO8</text>
<text transform="translate(948,437) rotate(90)">C17</text>
<text transform="translate(963,490) rotate(-90)">C20</text>
<text transform="translate(1213,422) rotate(90)">5V</text>
<text transform="translate(1213,457) rotate(90)">TP8</text>
<text transform="translate(1087,205) rotate(-90)">C10GPIO</text>
<text transform="translate(1087,283) rotate(-90)">C11</text>
<text transform="translate(1103,262) rotate(90)">D5</text>
<text transform="translate(1103,350) rotate(-90)">D4</text>
<text transform="translate(657,818) rotate(-90)">K3</text>
<text transform="translate(1106,547) rotate(180)">R1</text>
<text transform="translate(1071,631) rotate(180)">R2</text>
</g>
<g class="L" style="text-anchor:start">
<text x="744" y="1004" textLength="146" lengthAdjust="spacingAndGlyphs">Verdagraph Drip</text>
<text x="744" y="1024" textLength="218" lengthAdjust="spacingAndGlyphs">IoT Irrigation Controller</text>
<text x="744" y="1043" textLength="62" lengthAdjust="spacingAndGlyphs">Rev 0A</text>
</g>

<!-- crosshair markers -->
<g>
<use href="#pl" x="248" y="345"/><use href="#pl" x="357" y="360"/><use href="#pl" x="478" y="305"/><use href="#pl" x="497" y="475"/>
<use href="#pl" x="260" y="518"/><use href="#pl" x="652" y="247"/><use href="#pl" x="680" y="405"/><use href="#pl" x="754" y="395"/>
<use href="#pl" x="765" y="420"/><use href="#pl" x="649" y="479"/><use href="#pl" x="642" y="503"/><use href="#pl" x="791" y="206"/>
<use href="#pl" x="797" y="256"/><use href="#pl" x="780" y="319"/><use href="#pl" x="882" y="383"/><use href="#pl" x="918" y="383"/><use href="#pl" x="955" y="383"/>
<use href="#pl" x="923" y="447"/><use href="#pl" x="905" y="492"/><use href="#pl" x="990" y="436"/><use href="#pl" x="1056" y="443"/>
<use href="#pl" x="1176" y="426"/><use href="#pl" x="1177" y="322"/><use href="#pl" x="1100" y="240"/><use href="#pl" x="1124" y="240"/>
<use href="#pl" x="1100" y="285"/><use href="#pl" x="1165" y="458"/><use href="#pl" x="141" y="642"/><use href="#pl" x="343" y="695"/>
<use href="#pl" x="501" y="647"/><use href="#pl" x="544" y="739"/><use href="#pl" x="577" y="774"/><use href="#pl" x="141" y="876"/>
<use href="#pl" x="343" y="932"/><use href="#pl" x="501" y="889"/><use href="#pl" x="544" y="976"/><use href="#pl" x="577" y="1012"/>
<use href="#pl" x="684" y="660"/><use href="#pl" x="776" y="616"/><use href="#pl" x="813" y="582"/><use href="#pl" x="733" y="818"/>
<use href="#pl" x="684" y="1011"/><use href="#pl" x="943" y="839"/><use href="#pl" x="1062" y="940"/><use href="#pl" x="1015" y="1028"/>
<use href="#pl" x="1071" y="590"/><use href="#pl" x="1108" y="590"/><use href="#pl" x="1154" y="655"/><use href="#pl" x="989" y="589"/>
<use href="#pl" x="1076" y="735"/><use href="#pl" x="930" y="598"/><use href="#pl" x="1014" y="736"/><use href="#pl" x="1092" y="410"/>
<use href="#pl" x="1128" y="345"/><use href="#pl" x="1104" y="325"/>
</g>
</svg>
</body></html>
